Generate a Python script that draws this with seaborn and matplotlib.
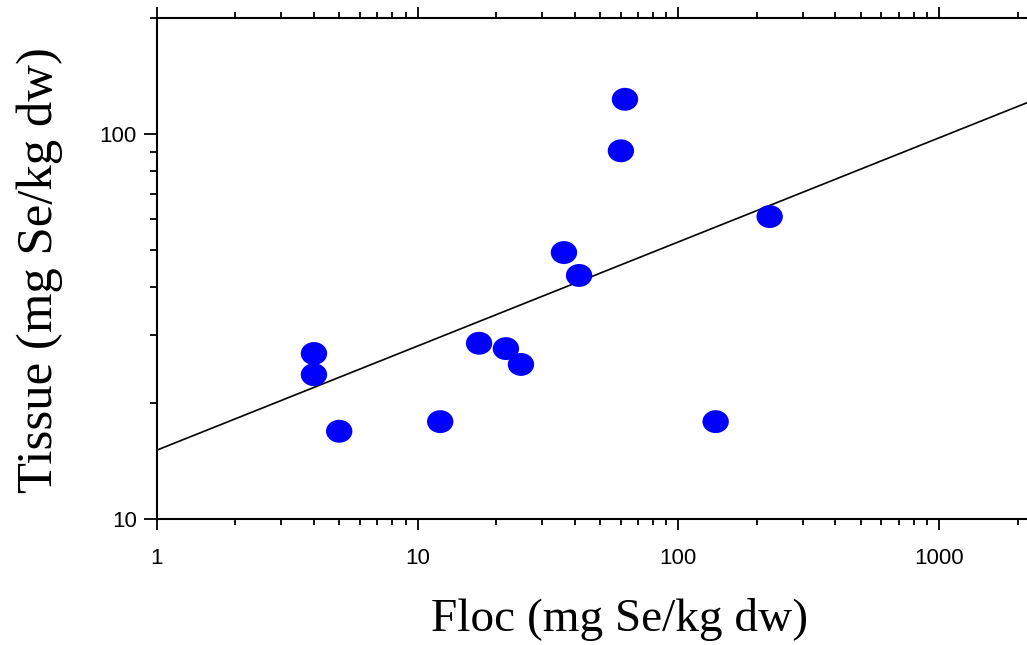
import matplotlib
matplotlib.use("Agg")
import matplotlib.pyplot as plt
import seaborn as sns
import numpy as np
import pandas as pd
from matplotlib.path import Path
from matplotlib.transforms import Affine2D
from matplotlib.ticker import FixedLocator, NullFormatter, FuncFormatter, LogLocator

# ---- data ----
floc = [4.0, 4.0, 5.0, 12.2, 17.2, 21.8, 24.9, 36.4, 41.6, 60.2, 62.4, 139, 224]
tissue = [26.9, 23.7, 16.9, 17.9, 28.6, 27.7, 25.2, 49.2, 42.9, 90.4, 123, 17.9, 61.0]
fit_x = [1.0, 2175.0]
fit_y = [15.1, 120.5]
x_ticks = [1, 10, 100, 1000]
y_ticks = [10, 100]

sns.set_theme(style="ticks")
plt.rcParams['font.family'] = ['Liberation Sans', 'DejaVu Sans']
plt.rcParams['text.color'] = 'black'
plt.rcParams['axes.labelcolor'] = 'black'

fig = plt.figure(figsize=(10.27, 6.45), dpi=100)
ax = fig.add_axes([157/1027, 1-519/645, 1-157/1027, (519-18)/645])

df = pd.DataFrame({"floc": floc, "tissue": tissue})
ellipse = Path.unit_circle().transformed(Affine2D().scale(1.0, 0.87))

sns.lineplot(x=fit_x, y=fit_y, ax=ax, color="black", linewidth=1.2, zorder=2)
sns.scatterplot(data=df, x="floc", y="tissue", ax=ax, marker=ellipse, s=360,
                color="#0000ff", edgecolor="none", linewidth=0, zorder=3)

ax.set_xscale("log")
ax.set_yscale("log")
ax.set_xlim(1, 2175)
ax.set_ylim(10, 200)

ax.xaxis.set_major_locator(FixedLocator(x_ticks))
ax.yaxis.set_major_locator(FixedLocator(y_ticks))
ax.xaxis.set_minor_locator(LogLocator(base=10, subs=np.arange(2, 10), numticks=20))
ax.yaxis.set_minor_locator(LogLocator(base=10, subs=np.arange(2, 10), numticks=20))
fmt = FuncFormatter(lambda v, p: f"{int(round(v))}")
ax.xaxis.set_major_formatter(fmt)
ax.yaxis.set_major_formatter(fmt)
ax.xaxis.set_minor_formatter(NullFormatter())
ax.yaxis.set_minor_formatter(NullFormatter())

for side in ["left", "bottom", "top"]:
    ax.spines[side].set_visible(True)
    ax.spines[side].set_linewidth(1.5)
    ax.spines[side].set_color("black")
ax.spines["right"].set_visible(False)

ax.tick_params(axis="x", which="both", direction="out", top=True, bottom=True,
               colors="black", labelcolor="black", width=1.3, labelsize=16, pad=13)
ax.tick_params(axis="x", which="major", length=8)
ax.tick_params(axis="x", which="minor", length=4)
ax.tick_params(axis="y", which="both", direction="out", left=True, right=False,
               colors="black", labelcolor="black", width=1.3, labelsize=16, pad=5)
ax.tick_params(axis="y", which="major", length=9.5)
ax.tick_params(axis="y", which="minor", length=5)

ax.set_xlabel("Floc (mg Se/kg dw)", fontsize=34, color="black",
              family=["Liberation Serif", "DejaVu Serif"])
ax.set_ylabel("Tissue (mg Se/kg dw)", fontsize=36.5, color="black",
              family=["Liberation Serif", "DejaVu Serif"])
ax.xaxis.set_label_coords(0.532, -0.157)
ax.yaxis.set_label_coords(-0.108, 0.497)
ax.grid(False)
ax.set_facecolor("white")
fig.patch.set_facecolor("white")

fig.savefig("out.png", dpi=100, facecolor="white")
